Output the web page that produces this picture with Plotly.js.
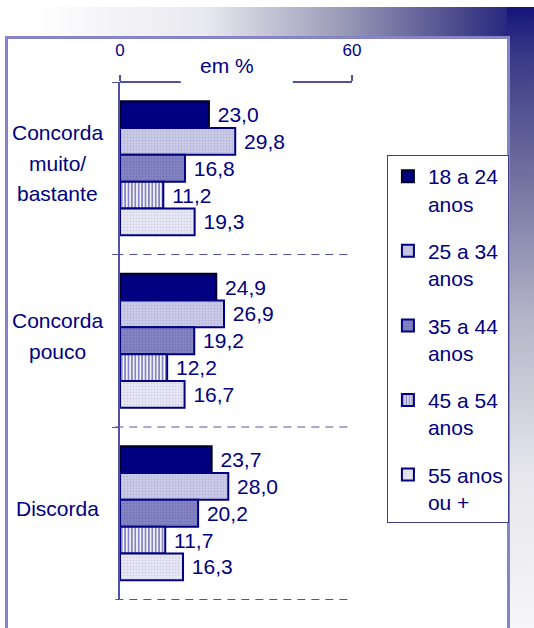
<!DOCTYPE html>
<html>
<head>
<meta charset="utf-8">
<script src="https://cdn.plot.ly/plotly-3.0.1.min.js"></script>
<style>
  html, body { margin: 0; padding: 0; width: 534px; height: 628px; overflow: hidden; background: #ffffff; }
  #topband { position: absolute; left: 30px; top: 7px; width: 504px; height: 30px;
    background: linear-gradient(to right, #ffffff 0%, #e8e8ef 35%, #9a9ab8 62%, #4a4a8c 85%, #14147a 100%); }
  #rightband { position: absolute; left: 507px; top: 7px; width: 27px; height: 621px;
    background: linear-gradient(to bottom, #14147a 0%, #3a3a88 8%, #6a6a9c 25%, #b4b4c8 50%, #e6e6ec 75%, #f6f6f8 100%); }
  #frame { position: absolute; left: 5px; top: 36px; width: 499px; height: 600px;
    border: 3px solid #8484c6; background: #ffffff; }
  #chart { position: absolute; left: 0; top: 0; width: 534px; height: 628px; }
</style>
</head>
<body>
<div id="topband"></div>
<div id="rightband"></div>
<div id="frame"></div>
<div id="chart"></div>
<script>
// ---- data ----
const categories = ["Concorda<br>muito/<br>bastante", "Concorda<br>pouco", "Discorda"];
const seriesNames = ["18 a 24<br>anos", "25 a 34<br>anos", "35 a 44<br>anos", "45 a 54<br>anos", "55 anos<br>ou +"];
const age18_24 = [23.0, 24.9, 23.7];
const age25_34 = [29.8, 26.9, 28.0];
const age35_44 = [16.8, 19.2, 20.2];
const age45_54 = [11.2, 12.2, 11.7];
const age55plus = [19.3, 16.7, 16.3];
const xTickVals = [0, 60];
const xTickText = ["0", "60"];
const xTitle = "em %";

// ---- styles ----
const navy = "#000080";
const axisCol = "#5252a4";
const font = "Liberation Sans, Arial, sans-serif";
const styles = [
  {color: "#000080", line: "#000022", pattern: {shape: ""}},
  {color: "#c9c9e7", line: navy, pattern: {shape: ".", bgcolor: "#cdcdea", fgcolor: "#b4b4da", size: 3, solidity: 0.35, fillmode: "replace"}},
  {color: "#8282c2", line: navy, pattern: {shape: ".", bgcolor: "#8686c4", fgcolor: "#7272b6", size: 3, solidity: 0.35, fillmode: "replace"}},
  {color: "#ffffff", line: navy, pattern: {shape: "|", bgcolor: "#ffffff", fgcolor: "#8585c3", size: 3.4, solidity: 0.55, fillmode: "replace"}},
  {color: "#e8e8f4", line: navy, pattern: {shape: ".", bgcolor: "#ebebf6", fgcolor: "#cfcfe6", size: 3, solidity: 0.35, fillmode: "replace"}}
];
const allSeries = [age18_24, age25_34, age35_44, age45_54, age55plus];
const fmt = v => "\u00a0" + v.toFixed(1).replace(".", ",");

const traces = allSeries.map((vals, i) => ({
  type: "bar",
  orientation: "h",
  name: seriesNames[i],
  legendgroup: "g" + i,
  y: categories,
  x: vals,
  text: vals.map(fmt),
  textposition: "outside",
  constraintext: "none",
  cliponaxis: false,
  textfont: {family: font, size: 21, color: navy},
  hoverinfo: "x+name",
  marker: {
    color: styles[i].color,
    pattern: styles[i].pattern,
    line: {color: styles[i].line, width: 2}
  }
}));

const shapes = [
  {type: "line", xref: "paper", yref: "paper", x0: 0, x1: 0.262, y0: 1, y1: 1, line: {color: axisCol, width: 2}},
  {type: "line", xref: "paper", yref: "paper", x0: 0.745, x1: 1, y0: 1, y1: 1, line: {color: axisCol, width: 2}}
];
categories.forEach((c, i) => {
  shapes.push({type: "line", xref: "paper", yref: "y", x0: -0.02, x1: 1, y0: i + 0.5, y1: i + 0.5,
    line: {color: axisCol, width: 1, dash: "8px,6px"}});
});

// category labels: one annotation per line, centred, with wider line spacing
const annotations = [];
const lineStep = 30.5;
categories.forEach(c => {
  const lines = c.split("<br>");
  const mid = (lines.length - 1) / 2;
  lines.forEach((ln, j) => {
    annotations.push({
      xref: "paper", yref: "y", x: -0.269, y: c, text: ln, showarrow: false,
      xanchor: "center", yanchor: "middle", align: "center", yshift: (mid - j) * lineStep + 5,
      font: {family: font, size: 21, color: navy}
    });
  });
});
annotations.push({xref: "paper", yref: "paper", x: 0.46, y: 1, yshift: 17, text: xTitle, showarrow: false,
  xanchor: "center", yanchor: "middle", font: {family: font, size: 21, color: navy}});

const layout = {
  width: 534, height: 628,
  margin: {l: 119.5, r: 182, t: 82, b: 28, pad: 0},
  paper_bgcolor: "rgba(0,0,0,0)",
  plot_bgcolor: "rgba(0,0,0,0)",
  barmode: "group",
  bargap: 0.224,
  bargroupgap: 0,
  showlegend: true,
  font: {family: font, color: navy},
  xaxis: {
    side: "top", range: [0, 60], tickvals: xTickVals, ticktext: xTickText,
    ticks: "outside", ticklen: 6, tickwidth: 2, tickcolor: axisCol,
    tickfont: {family: font, size: 17, color: navy}, ticklabelstandoff: 12,
    showline: false, showgrid: false, zeroline: false, fixedrange: true
  },
  yaxis: {
    type: "category", autorange: "reversed", tickson: "boundaries",
    ticks: "outside", ticklen: 6, tickwidth: 1, tickcolor: axisCol,
    showticklabels: false, showgrid: false, zeroline: false,
    showline: true, linecolor: axisCol, linewidth: 2, fixedrange: true
  },
  legend: {
    x: 1.1505, y: 0.859, xanchor: "left", yanchor: "top",
    bgcolor: "#ffffff", bordercolor: "#3c3c96", borderwidth: 1,
    font: {family: font, size: 21, color: navy},
    traceorder: "grouped", tracegroupgap: 17, valign: "top"
  },
  shapes: shapes,
  annotations: annotations
};

Plotly.newPlot("chart", traces, layout, {displayModeBar: false, staticPlot: true});
</script>
</body>
</html>
